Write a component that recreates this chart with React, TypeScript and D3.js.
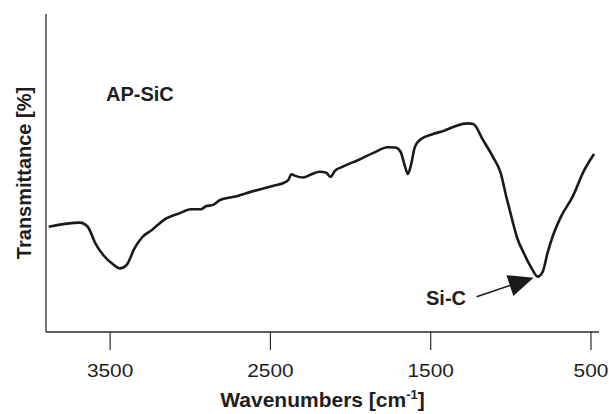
import React, { useEffect, useRef } from "react";
import * as d3 from "d3";

// spectrum (wavenumber in cm-1, transmittance in arbitrary %)
const wavenumbers = [
  3883, 3689, 3640, 3592, 3543, 3482, 3438, 3397, 3348, 3300, 3239, 3166, 3069,
  2996, 2935, 2899, 2862, 2814, 2729, 2607, 2486, 2401, 2388, 2369, 2345, 2297,
  2243, 2194, 2151, 2126, 2097, 2048, 1951, 1854, 1769, 1720, 1688, 1660, 1642,
  1623, 1598, 1562, 1489, 1416, 1343, 1270, 1234, 1174, 1112, 1064, 1028, 991,
  962, 918, 870, 833, 801, 772, 736, 687, 615, 542, 481,
];
const transmittance = [
  33.1, 34.4, 33.1, 27.9, 24.2, 21.3, 20.0, 21.1, 26.3, 29.8, 32.1, 35.2, 37.3,
  38.6, 38.6, 39.6, 39.9, 41.5, 42.5, 44.3, 45.9, 47.3, 47.8, 49.6, 49.1, 48.6,
  49.6, 50.4, 50.1, 48.8, 50.7, 52.0, 54.1, 56.4, 58.1, 58.0, 56.7, 52.0, 49.7,
  52.5, 58.3, 60.6, 62.2, 63.3, 64.8, 65.6, 65.4, 60.4, 55.1, 50.1, 42.5, 35.2,
  29.8, 24.7, 20.0, 17.4, 19.0, 24.7, 30.5, 36.3, 42.5, 50.9, 56.0,
];
const xTicks = [3500, 2500, 1500, 500];
const sampleLabel = "AP-SiC";
const peakLabel = "Si-C";
const peakWavenumber = 833;
const peakValue = 17.4;

const W = 609;
const H = 414;

export default function App() {
  const svgRef = useRef<SVGSVGElement>(null);

  useEffect(() => {
    const svg = d3.select(svgRef.current);
    svg.selectAll("*").remove();

    const left = 46, right = 599, top = 14, bottom = 332;
    const x = d3.scaleLinear().domain([3900, 450]).range([left, right]);
    const y = d3.scaleLinear().domain([0, 100]).range([bottom, top]);

    const axisColor = "#2a2a2a";
    const font = "Liberation Sans, Arial, Helvetica, sans-serif";

    // axes
    svg.append("line")
      .attr("x1", left).attr("x2", left).attr("y1", top).attr("y2", bottom)
      .attr("stroke", axisColor).attr("stroke-width", 1.3);
    svg.append("line")
      .attr("x1", left).attr("x2", right).attr("y1", bottom).attr("y2", bottom)
      .attr("stroke", axisColor).attr("stroke-width", 1.3);

    const ticks = svg.append("g");
    xTicks.forEach((t) => {
      const label = String(t);
      ticks.append("line")
        .attr("x1", x(t)).attr("x2", x(t)).attr("y1", bottom).attr("y2", bottom + 18)
        .attr("stroke", axisColor).attr("stroke-width", 1.2);
      ticks.append("text")
        .attr("x", x(t)).attr("y", 377)
        .attr("text-anchor", "middle")
        .attr("font-family", font).attr("font-size", 18)
        .attr("textLength", label.length * 11.6).attr("lengthAdjust", "spacingAndGlyphs")
        .attr("fill", "#1e1e1e")
        .text(label);
    });

    // axis titles
    const xt = svg.append("text")
      .attr("x", (left + right) / 2).attr("y", 407)
      .attr("text-anchor", "middle")
      .attr("font-family", font).attr("font-size", 21).attr("font-weight", "bold")
      .attr("fill", "#1e1e1e");
    xt.append("tspan").text("Wavenumbers [cm");
    xt.append("tspan").attr("dy", -8).attr("font-size", 13).text("-1");
    xt.append("tspan").attr("dy", 8).text("]");

    svg.append("text")
      .attr("transform", `translate(31, ${(top + bottom) / 2}) rotate(-90)`)
      .attr("text-anchor", "middle")
      .attr("font-family", font).attr("font-size", 20).attr("font-weight", "bold")
      .attr("fill", "#1e1e1e")
      .text("Transmittance [%]");

    // spectrum
    const pts = wavenumbers.map((w, i) => [w, transmittance[i]] as [number, number]);
    const line = d3.line<[number, number]>()
      .x((d) => x(d[0]))
      .y((d) => y(d[1]))
      .curve(d3.curveMonotoneX);
    svg.append("path")
      .attr("d", line(pts))
      .attr("fill", "none")
      .attr("stroke", "#1a1a1a")
      .attr("stroke-width", 2.6)
      .attr("stroke-linejoin", "round");

    // labels
    svg.append("text")
      .attr("x", 106).attr("y", 101)
      .attr("font-family", font).attr("font-size", 20).attr("font-weight", "bold")
      .attr("fill", "#1e1e1e")
      .text(sampleLabel);

    svg.append("text")
      .attr("x", 426).attr("y", 305)
      .attr("font-family", font).attr("font-size", 20).attr("font-weight", "bold")
      .attr("fill", "#1e1e1e")
      .text(peakLabel);

    // arrow to the Si-C minimum
    const tipX = x(peakWavenumber) - 4;
    const tipY = y(peakValue) + 1;
    const tailX = tipX - 57;
    const tailY = tipY + 19;
    const ang = Math.atan2(tipY - tailY, tipX - tailX);
    const headLen = 25, headHalf = 11;
    const bx = tipX - headLen * Math.cos(ang);
    const by = tipY - headLen * Math.sin(ang);
    svg.append("line")
      .attr("x1", tailX).attr("y1", tailY).attr("x2", bx).attr("y2", by)
      .attr("stroke", "#1a1a1a").attr("stroke-width", 1.5);
    svg.append("polygon")
      .attr("points", [
        [tipX, tipY],
        [bx - headHalf * Math.sin(ang), by + headHalf * Math.cos(ang)],
        [bx + headHalf * Math.sin(ang), by - headHalf * Math.cos(ang)],
      ].map((p) => p.join(",")).join(" "))
      .attr("fill", "#1a1a1a");
  }, []);

  return (
    <div style={{ position: "absolute", left: 0, top: 0, width: W, height: H, background: "#fff" }}>
      <svg ref={svgRef} width={W} height={H} style={{ display: "block" }} />
    </div>
  );
}
